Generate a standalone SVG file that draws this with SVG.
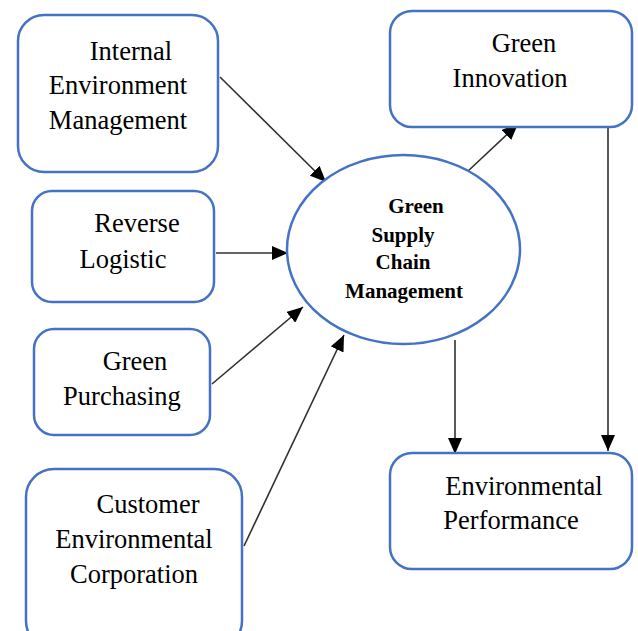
<svg xmlns="http://www.w3.org/2000/svg" width="638" height="631" viewBox="0 0 638 631">
<style>
.box{fill:#fff;stroke:#4472C4;stroke-width:2.5}
.t{font-family:"Liberation Serif","Times New Roman",serif;font-size:26.5px;fill:#000;text-anchor:middle}
.b{font-family:"Liberation Serif","Times New Roman",serif;font-size:21px;font-weight:bold;fill:#000;text-anchor:middle}
.c2{stroke:#303030;stroke-width:1.6;fill:none;marker-end:url(#ah2)}
</style>
<defs>
<marker id="ah2" viewBox="0 0 10 10" refX="10" refY="5" markerWidth="16" markerHeight="14" markerUnits="userSpaceOnUse" orient="auto" preserveAspectRatio="none">
<path d="M0,0 L10,5 L0,10 Z" fill="#000"/>
</marker>
</defs>
<rect width="638" height="631" fill="#fff"/>
<g id="connectors">
<line class="c2" x1="220" y1="77" x2="326" y2="182"/>
<line class="c2" x1="216" y1="253" x2="288" y2="253"/>
<line class="c2" x1="212" y1="384" x2="303" y2="307"/>
<line class="c2" x1="244" y1="546" x2="344" y2="335"/>
<line class="c2" x1="467" y1="172" x2="518" y2="124"/>
<line class="c2" x1="455" y1="340" x2="455" y2="454"/>
<line class="c2" x1="608" y1="127" x2="608" y2="451"/>
</g>
<g id="n1"><rect class="box" x="18" y="15" width="200" height="157" rx="26"/>
<text class="t" x="131" y="60">Internal</text><text class="t" x="118" y="94">Environment</text><text class="t" x="118" y="129">Management</text></g>
<g id="n2"><rect class="box" x="32" y="191" width="182" height="111" rx="20"/>
<text class="t" x="137" y="232">Reverse</text><text class="t" x="123" y="268">Logistic</text></g>
<g id="n3"><rect class="box" x="34" y="329" width="176" height="106" rx="20"/>
<text class="t" x="135" y="370">Green</text><text class="t" x="122" y="405">Purchasing</text></g>
<g id="n4"><rect class="box" x="26" y="469" width="216" height="180" rx="28"/>
<text class="t" x="148" y="513">Customer</text><text class="t" x="134" y="548">Environmental</text><text class="t" x="134" y="583">Corporation</text></g>
<g id="n5"><rect class="box" x="390" y="11" width="242" height="116" rx="22"/>
<text class="t" x="524" y="52">Green</text><text class="t" x="510" y="87">Innovation</text></g>
<g id="n6"><rect class="box" x="390" y="453" width="242" height="116" rx="22"/>
<text class="t" x="524" y="495">Environmental</text><text class="t" x="511" y="529">Performance</text></g>
<g id="gscm"><ellipse class="box" cx="403.5" cy="249.5" rx="116.5" ry="94.5"/>
<text class="b" x="416" y="213">Green</text><text class="b" x="403" y="242">Supply</text><text class="b" x="403" y="269">Chain</text><text class="b" x="404" y="298">Management</text></g>
</svg>
